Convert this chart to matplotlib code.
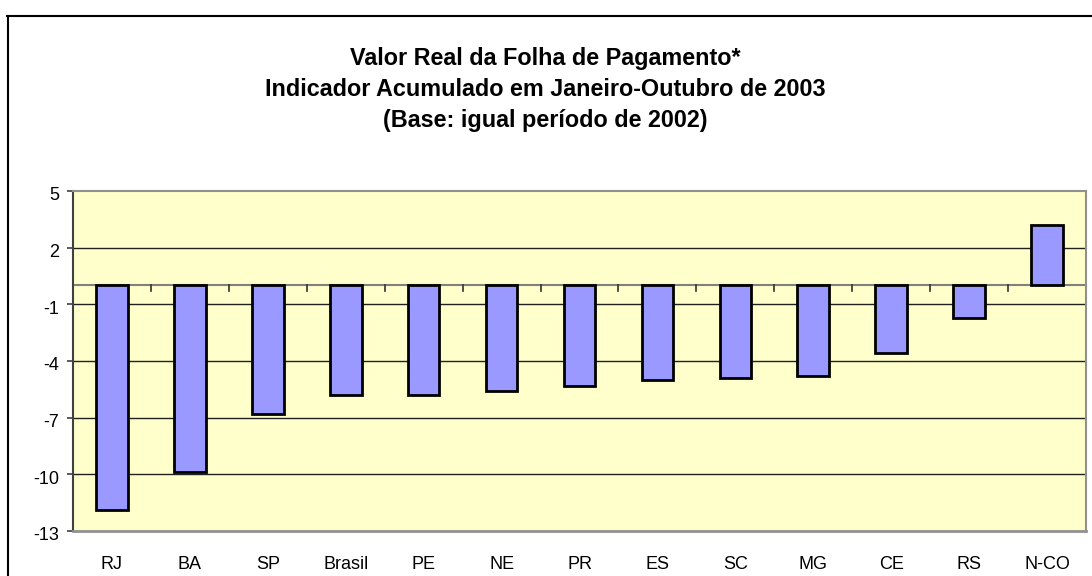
import matplotlib
matplotlib.use("Agg")
import matplotlib.pyplot as plt
from matplotlib.lines import Line2D
from matplotlib.transforms import ScaledTranslation
import numpy as np

categories = ["RJ", "BA", "SP", "Brasil", "PE", "NE", "PR", "ES", "SC", "MG", "CE", "RS", "N-CO"]
values = [-11.9, -9.9, -6.8, -5.8, -5.8, -5.6, -5.3, -5.0, -4.9, -4.8, -3.6, -1.7, 3.2]
yticks = [5, 2, -1, -4, -7, -10, -13]
title_lines = ["Valor Real da Folha de Pagamento*",
               "Indicador Acumulado em Janeiro-Outubro de 2003",
               "(Base: igual período de 2002)"]

plt.rcParams['font.family'] = ['Liberation Sans', 'DejaVu Sans']

W, H = 1092, 576
fig = plt.figure(figsize=(W / 100, H / 100), dpi=100)
fig.patch.set_facecolor("white")

# outer chart border
fig.add_artist(Line2D([7 / W, 1.0], [1 - 16 / H, 1 - 16 / H], transform=fig.transFigure,
                      color="black", lw=1.5))
fig.add_artist(Line2D([8 / W, 8 / W], [0.0, 1 - 16 / H], transform=fig.transFigure,
                      color="black", lw=1.5))

left, right, bottom, top = 73 / W, 1086 / W, (H - 531) / H, (H - 191) / H
ax = fig.add_axes([left, bottom, right - left, top - bottom])
ax.set_facecolor("#FFFFCC")

x = np.arange(len(categories))
ax.set_xlim(-0.5, len(categories) - 0.5)
ax.set_ylim(-13, 5)

for yv in yticks[1:-1]:
    ax.axhline(yv, color="#202020", lw=1.0, zorder=1)

ax.bar(x, values, width=0.405, color="#9999FF", edgecolor="black", linewidth=2.0, zorder=3)

# zero axis line with category-boundary tick marks
ax.axhline(0, color="#808080", lw=1.5, zorder=2)
for b in np.arange(len(categories) + 1) - 0.5:
    ax.plot([b, b], [0, -0.32], color="#303030", lw=1.2, zorder=2, clip_on=False)

ax.set_yticks(yticks)
ax.set_yticklabels([str(v) for v in yticks], fontsize=13)
ax.tick_params(axis="y", length=4.3, width=1.2, color="#404040", pad=5.5)
off = ScaledTranslation(0, -3 / 100, fig.dpi_scale_trans)
for lab in ax.get_yticklabels():
    lab.set_transform(lab.get_transform() + off)
ax.set_xticks(x)
ax.set_xticklabels(categories, fontsize=13)
ax.tick_params(axis="x", length=0, pad=18)

for s in ["top", "right"]:
    ax.spines[s].set_color("#909090")
    ax.spines[s].set_linewidth(1.5)
ax.spines["left"].set_color("#404040")
ax.spines["left"].set_linewidth(1.5)
ax.spines["bottom"].set_color("#909090")
ax.spines["bottom"].set_linewidth(2.0)

baselines = [65, 96, 127]
for t, yy in zip(title_lines, baselines):
    fig.text(545 / W, 1 - yy / H, t, ha="center", va="baseline",
             fontsize=16.8, fontweight="bold")

fig.savefig("out.png", dpi=100)
